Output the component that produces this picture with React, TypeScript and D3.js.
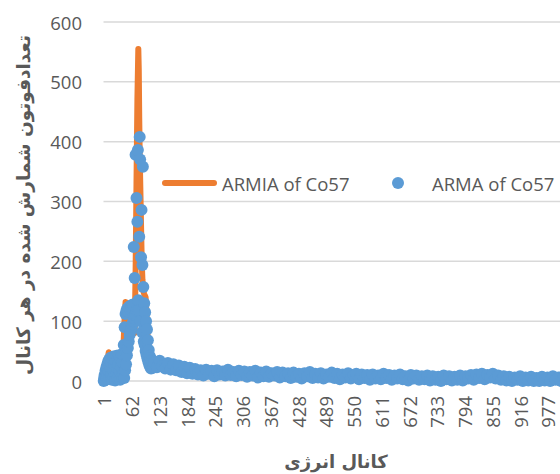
import React from "react";
import * as d3 from "d3";

// ---------- DATA ----------
// ARMA of Co57 – counts for channels 1..111 (one value per channel)
const armaPeakCounts = [
  0, 5, 10, 2, 17, 6, 23, 12, 28, 3,
  33, 15, 36, 5, 24, 39, 9, 30, 2, 38,
  18, 41, 6, 27, 40, 1, 33, 12, 42, 21,
  4, 39, 28, 9, 43, 17, 2, 37, 24, 44,
  7, 31, 45, 13, 60, 5, 90, 18, 112, 28,
  118, 43, 121, 55, 116, 66, 124, 77, 119, 84,
  126, 90, 121, 95, 128, 100, 224, 105, 172, 110,
  378, 112, 306, 118, 266, 386, 135, 118, 241, 408,
  370, 100, 207, 286, 82, 194, 358, 157, 66, 130,
  60, 115, 50, 100, 44, 86, 38, 68, 32, 52,
  27, 42, 24, 38, 21, 35, 23, 33, 22, 31, 24,
];
const armaPeakFirstChannel = 1;

// tail: channels 112, 118, ... 1024
const tailFirstChannel = 112;
const tailChannelStep = 6;
const armaTailCounts = [
  31, 23, 34, 25,
  21, 30, 19, 28, 18,
  26, 15, 24, 13, 22, 12,
  20, 11, 18, 9, 19, 12, 17, 8, 18, 11, 16, 9, 19, 10, 15, 8, 17,
  10, 16, 7, 15, 9, 17, 6, 14, 8, 16, 7, 13, 9, 15, 6, 14, 8,
  13, 5, 14, 7, 12, 4, 13, 8, 15, 5, 12, 6, 13, 4, 11, 7, 14, 5, 12, 3, 11, 6, 13, 4, 10,
  12, 3, 11, 5, 10, 2, 11, 4, 9, 3, 12, 5, 10, 2, 9, 4, 11, 3, 8, 1, 10, 4, 9, 2, 8,
  3, 9, 1, 8, 2, 7, 0, 9, 3, 8, 1, 7, 2, 9, 1, 8,
  4, 10, 2, 11, 5, 12, 3, 10, 6, 12, 4, 9, 2, 8,
  1, 7, 0, 6, 2, 8, 0, 6, 1, 7, 0, 5, 0, 7, 1, 6, 0, 8, 2, 6, 0, 7, 1, 5,
];

// ARMIA of Co57 – line series
const armiaPeakChannels = [
  1, 4, 7, 10, 12, 14, 17, 20, 24, 28,
  32, 36, 40, 43, 45, 47, 49, 51, 54, 57,
  60, 63, 66, 69, 71, 73, 75, 77, 78, 79,
  80, 81, 82, 83, 84, 85, 86, 88, 90, 92,
  93, 95, 97, 99, 101, 103, 106, 109,
];
const armiaPeakCounts = [
  0, 12, 25, 38, 48, 40, 38, 35, 38, 40,
  39, 42, 43, 46, 70, 105, 132, 118, 112, 108,
  100, 95, 88, 80, 180, 330, 470, 555, 520, 440,
  380, 340, 300, 260, 220, 190, 170, 150, 145, 142,
  140, 110, 80, 58, 45, 38, 34, 31,
];
const armiaTailCounts = [
  29, 28, 28, 27,
  25, 24, 23, 22, 22,
  20, 19, 18, 17, 17, 16,
  15, 15, 14, 14, 14, 13, 13, 13, 13, 13, 12, 12, 13, 12, 12, 12, 12,
  12, 11, 11, 11, 11, 11, 10, 10, 11, 11, 10, 10, 10, 10, 10, 10, 10,
  9, 9, 10, 9, 9, 8, 9, 9, 10, 9, 9, 9, 8, 8, 8, 9, 9, 8, 8, 7, 8, 8, 8, 7, 7,
  7, 7, 7, 7, 6, 6, 7, 6, 6, 7, 7, 7, 6, 6, 6, 6, 6, 6, 5, 5, 6, 6, 5, 5, 5,
  5, 5, 4, 5, 4, 4, 4, 5, 5, 5, 4, 4, 5, 5, 4, 5,
  6, 6, 6, 7, 8, 8, 7, 7, 8, 8, 7, 6, 5, 5,
  4, 4, 3, 3, 4, 4, 3, 3, 3, 4, 3, 3, 3, 3, 3, 3, 3, 4, 4, 3, 3, 3, 3, 3,
];

const channelCount = 1024;
const yTicks = [0, 100, 200, 300, 400, 500, 600];
const xTickLabels = [1, 62, 123, 184, 245, 306, 367, 428, 489, 550, 611, 672, 733, 794, 855, 916, 977];
const seriesNames = ["ARMIA of Co57", "ARMA of Co57"];
const yTitle = "تعدادفوتون شمارش شده در هر کانال";
const xTitle = "کانال انرژی";

// ---------- STYLE ----------
const ORANGE = "#ed7d31";
const BLUE = "#5b9bd5";
const TEXT = "#595959";
const GRID = "#d9d9d9";
const FONT = "'Segoe UI', 'Open Sans', sans-serif";
const AR_FONT = "'DejaVu Sans', sans-serif";
const MARKER_R = 6;

type Pt = { ch: number; v: number };

export default function App() {
  const x = d3.scaleLinear().domain([0.5, channelCount + 0.5]).range([103.5, 569.5]);
  const y = d3.scaleLinear().domain([0, 600]).range([381, 22]);

  const armaPts: Pt[] = [
    ...armaPeakCounts.map((v, i) => ({ ch: armaPeakFirstChannel + i, v })),
    ...armaTailCounts.map((v, i) => ({ ch: tailFirstChannel + i * tailChannelStep, v })),
  ];
  const armiaPts: Pt[] = [
    ...armiaPeakChannels.map((ch, i) => ({ ch, v: armiaPeakCounts[i] })),
    ...armiaTailCounts.map((v, i) => ({ ch: tailFirstChannel + i * tailChannelStep, v })),
  ];

  const line = d3
    .line<Pt>()
    .x((d) => x(d.ch))
    .y((d) => y(d.v));

  return (
    <svg
      width={560}
      height={474}
      viewBox="0 0 560 474"
      style={{ position: "absolute", left: 0, top: 0, background: "#fff" }}
      fontFamily={FONT}
    >
      <rect x={0} y={0} width={560} height={474} fill="#fff" />
      {yTicks.map((t) => (
        <line key={t} x1={103.5} x2={570} y1={y(t)} y2={y(t)} stroke={GRID} strokeWidth={1.5} />
      ))}
      {yTicks.map((t) => (
        <text
          key={"yl" + t}
          x={82}
          y={y(t)}
          textAnchor="end"
          dominantBaseline="central"
          fontSize={18.5}
          fill={TEXT}
        >
          {t}
        </text>
      ))}
      {xTickLabels.map((c) => (
        <text
          key={"xl" + c}
          transform={`translate(${x(c)},396) rotate(-90)`}
          textAnchor="end"
          dominantBaseline="central"
          fontSize={18.5}
          fill={TEXT}
        >
          {c}
        </text>
      ))}
      <path
        d={line(armiaPts) || ""}
        fill="none"
        stroke={ORANGE}
        strokeWidth={6}
        strokeLinejoin="round"
        strokeLinecap="round"
      />
      {armaPts.map((d, i) => (
        <circle key={i} cx={x(d.ch)} cy={y(d.v)} r={MARKER_R} fill={BLUE} />
      ))}
      <line x1={165} x2={214} y1={183} y2={183} stroke={ORANGE} strokeWidth={6} strokeLinecap="round" />
      <text x={222} y={183} dominantBaseline="central" fontSize={18.5} fill={TEXT}>
        {seriesNames[0]}
      </text>
      <circle cx={398} cy={183} r={MARKER_R} fill={BLUE} />
      <text x={432} y={183} dominantBaseline="central" fontSize={18.5} fill={TEXT}>
        {seriesNames[1]}
      </text>
      <text
        transform="translate(23,205) rotate(-90)"
        textAnchor="middle"
        dominantBaseline="central"
        fontFamily={AR_FONT}
        fontWeight="bold"
        fontSize={18.5}
        fill={TEXT}
      >
        {yTitle}
      </text>
      <text
        x={336}
        y={461}
        textAnchor="middle"
        dominantBaseline="central"
        fontFamily={AR_FONT}
        fontWeight="bold"
        fontSize={18}
        fill={TEXT}
      >
        {xTitle}
      </text>
    </svg>
  );
}
